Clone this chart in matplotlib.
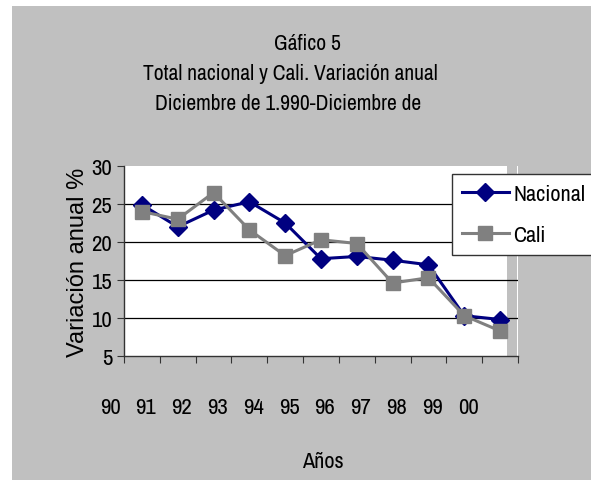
import matplotlib
matplotlib.use("Agg")
import matplotlib.pyplot as plt
from matplotlib.patches import Rectangle

# data
anios = ["90", "91", "92", "93", "94", "95", "96", "97", "98", "99", "00"]
nacional = [24.9, 22.0, 24.2, 25.3, 22.5, 17.8, 18.1, 17.6, 17.0, 10.3, 9.8]
cali = [24.0, 23.0, 26.5, 21.6, 18.2, 20.3, 19.8, 14.6, 15.3, 10.3, 8.3]

titulo = ["Gáfico 5",
          "Total nacional y Cali. Variación anual",
          "Diciembre de 1.990-Diciembre de"]

# condensed look of the original; falls back to Liberation Sans
narrow = ["Archivo Narrow", "Liberation Sans"]

W, H = 591, 485
fig = plt.figure(figsize=(W / 100, H / 100), dpi=100, facecolor="white")

# gray chart area
fig.patches.append(Rectangle((12 / W, 1 - 481 / H), (W - 12) / W, (481 - 7) / H,
                             transform=fig.transFigure, facecolor="#c0c0c0",
                             edgecolor="none", zorder=-10))

ax = fig.add_axes([124 / W, 1 - 357 / H, (518 - 124) / W, (357 - 167) / H])
ax.set_facecolor("white")

x = [i + 0.5 for i in range(len(anios))]
ax.set_xlim(0, len(anios))
ax.set_ylim(5, 30)

ax.axvspan(10.70, 10.97, color="#c0c0c0", zorder=0.5, lw=0)
for v in [10, 15, 20, 25]:
    ax.axhline(v, color="black", lw=0.9, zorder=1)

ax.plot(x, nacional, color="#000080", lw=2.2, marker="D", markersize=9,
        label="Nacional", zorder=3)
ax.plot(x, cali, color="#808080", lw=2.2, marker="s", markersize=10,
        label="Cali", zorder=4)

for s in ["top", "right"]:
    ax.spines[s].set_visible(False)
for s in ["left", "bottom"]:
    ax.spines[s].set_color("#333333")
    ax.spines[s].set_linewidth(1.0)

ax.set_xticks(range(len(anios) + 1))
ax.set_xticklabels([])
ax.tick_params(axis="x", direction="out", length=5, color="#333333")
ax.set_yticks([5, 10, 15, 20, 25, 30])
ax.tick_params(axis="y", direction="out", length=5, color="#333333", labelsize=16.5)
for lab in ax.get_yticklabels():
    lab.set_fontfamily(narrow)

# year labels sit left of the category centres, as in the original
for i, a in enumerate(anios):
    ax.text(i - 0.39, -0.268, a, transform=ax.get_xaxis_transform(),
            ha="center", va="center", fontsize=16.5, family=narrow)

ax.set_ylabel("Variación anual %", fontsize=17, family="Liberation Sans", labelpad=2)
fig.text(323 / W, 1 - 462 / H, "Años", ha="center", va="center", fontsize=16, family=narrow)

ys = [44, 74, 104]
xs = [307, 290, 288]
for t, xx, yy in zip(titulo, xs, ys):
    fig.text(xx / W, 1 - yy / H, t, ha="center", va="center", fontsize=15.5, family=narrow)

leg = fig.legend(loc="upper left", bbox_to_anchor=(452 / W, 1 - 175 / H),
                 bbox_transform=fig.transFigure, borderaxespad=0,
                 prop={"family": narrow, "size": 16}, frameon=True, fancybox=False,
                 framealpha=1, facecolor="white",
                 handlelength=2.1, handletextpad=0.2, borderpad=0.45, labelspacing=0.95)
leg.get_frame().set_edgecolor("#333333")
leg.get_frame().set_linewidth(1.0)

fig.savefig("out.png", dpi=100)
